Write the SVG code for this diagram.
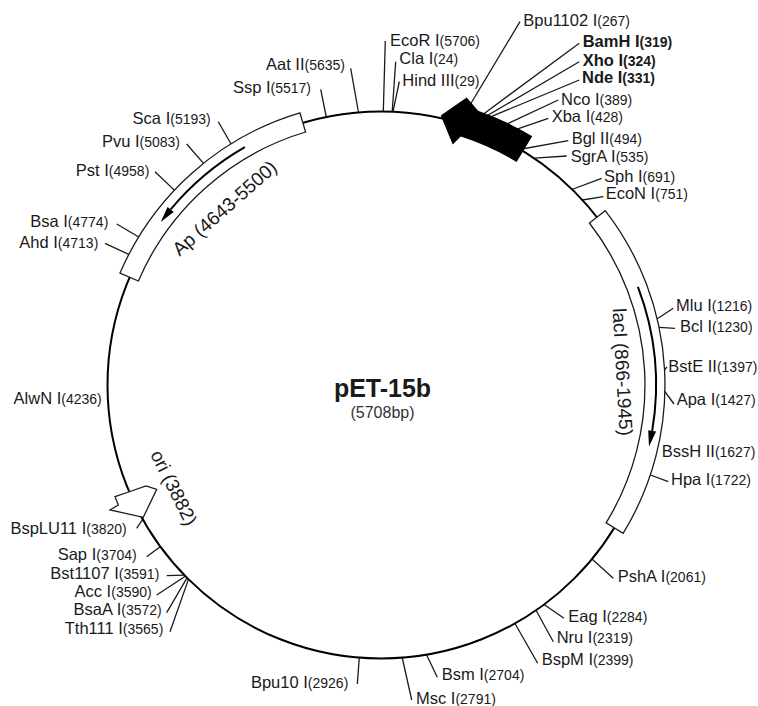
<svg xmlns="http://www.w3.org/2000/svg" width="758" height="706" viewBox="0 0 758 706">
<style>
text{font-family:"Liberation Sans",Arial,sans-serif;fill:#1a1a1a;font-size:16.5px}
.num{font-size:14px}
.b{font-weight:bold}
.feat{font-size:19px}
.tk{stroke:#1a1a1a;stroke-width:1.3;fill:none}
.bx{fill:#fff;stroke:#1a1a1a;stroke-width:1.3}
.ar{fill:none;stroke:#000;stroke-width:2}
</style>
<rect width="758" height="706" fill="#fff"/>
<g id="connectors" class="tk">
<path d="M383.3,111.5L385.3,41"/>
<path d="M392.2,111.5L395.7,61.7"/>
<path d="M393,111.5L399.3,81.7"/>
<path d="M358.5,112.5L350.7,68.3"/>
<path d="M326.3,117L320.7,89.3"/>
<path d="M467,110L520,21.7"/>
<path d="M480.9,115.9L579.3,43.3"/>
<path d="M484.5,117.3L579.3,61.7"/>
<path d="M487,118.3L579.3,80"/>
<path d="M503.7,125.5L558.3,100"/>
<path d="M513.4,130.4L548.3,118.3"/>
<path d="M522,149L568.3,140.7"/>
<path d="M534.6,158.1L566.7,156"/>
<path d="M571.8,189.5L601.7,178.3"/>
<path d="M582.3,200L603.3,196.7"/>
<path d="M654.2,320.7L673.3,308.3"/>
<path d="M655.8,327.2L675,328.3"/>
<path d="M658,377L667,367"/>
<path d="M661.3,386.7L674,404"/>
<path d="M645,473L668.3,481.7"/>
<path d="M591.7,558.7L613.3,578.3"/>
<path d="M544,604.5L564,618.3"/>
<path d="M535.9,610L553.3,641.7"/>
<path d="M514.8,623.2L537.7,663.3"/>
<path d="M426.4,654.5L437.3,677.3"/>
<path d="M402.2,657.5L411.7,700"/>
<path d="M359.3,657.5L357.3,684"/>
<path d="M188.7,578.6L170,631.7"/>
<path d="M187,577.8L166.7,612.7"/>
<path d="M185.3,576.2L156.7,595"/>
<path d="M185,575.2L166.7,575.7"/>
<path d="M160.8,546.3L146.7,556.7"/>
<path d="M143.3,518.3L136.7,528.3"/>
<path d="M233.2,147.8L218.3,121.7"/>
<path d="M207,167.4L186.7,144"/>
<path d="M177.7,193.4L155,171.7"/>
<path d="M143.4,239.8L116.7,224"/>
<path d="M134.6,257.1L105,243.3"/>
</g>
<g id="backbone">
<circle cx="381" cy="385" r="273.5" fill="none" stroke="#000" stroke-width="2"/>
</g>
<g id="ap">
<path class="bx" d="M120,273.1A284,284 0 0 1 299.9,112.8L305.6,132A264,264 0 0 0 138.4,281Z"/>
<path class="ar" d="M244.8,147.2A274,274 0 0 0 170.7,209.4" stroke-width="1.8"/>
<polygon points="173.7,212 167.6,206.9 160.7,222" fill="#000"/>
<text class="feat" transform="translate(228.9,213.1) rotate(-41.5)" text-anchor="middle">Ap (4643-5500)</text>
</g>
<g id="lacI">
<path class="bx" d="M605.2,210.7A284,284 0 0 1 623.1,533.4L606.1,522.9A264,264 0 0 0 589.4,223Z"/>
<path class="ar" d="M637.9,286.9A275,275 0 0 1 652.2,430.9" stroke-width="1.8"/>
<polygon points="648.2,430.2 656.1,431.5 649,446.6" fill="#000"/>
<text class="feat" transform="translate(616.1,372.3) rotate(86.9)" text-anchor="middle">lacI (866-1945)</text>
</g>
<g id="t7">
<path d="M440.7,115.5L466.7,97.5L478.1,110.7A291,291 0 0 1 532.2,136.3L516.6,162A261,261 0 0 0 460.8,136.5L452.7,144.5Z" fill="#000"/>
</g>
<g id="ori">
<polygon class="bx" points="115,496.7 130,491.5 146,486 156.7,489.3 143.3,517.3 110,510 118.3,505"/>
<text class="feat" transform="translate(168.1,490.7) rotate(63.6)" text-anchor="middle">ori (3882)</text>
</g>
<g id="title">
<text x="382.5" y="397" text-anchor="middle" style="font-size:25px;font-weight:bold">pET-15b</text>
<text x="382.5" y="418" text-anchor="middle" style="font-size:16px;fill:#333">(5708bp)</text>
</g>
<g id="sites-right">
<g id="s-ecori"><text x="390" y="46">EcoR I<tspan class="num">(5706)</tspan></text></g>
<g id="s-clai"><text x="399.3" y="64.3">Cla I<tspan class="num">(24)</tspan></text></g>
<g id="s-hindiii"><text x="402.3" y="86">Hind III<tspan class="num">(29)</tspan></text></g>
<g id="s-bpu1102"><text x="523.3" y="26">Bpu1102 I<tspan class="num">(267)</tspan></text></g>
<g id="s-bamhi"><text class="b" x="582.7" y="46.7">BamH I<tspan class="num">(319)</tspan></text></g>
<g id="s-xhoi"><text class="b" x="582.7" y="65.7">Xho I<tspan class="num">(324)</tspan></text></g>
<g id="s-ndei"><text class="b" x="582" y="83.3">Nde I<tspan class="num">(331)</tspan></text></g>
<g id="s-ncoi"><text x="561" y="105">Nco I<tspan class="num">(389)</tspan></text></g>
<g id="s-xbai"><text x="551.7" y="121.7">Xba I<tspan class="num">(428)</tspan></text></g>
<g id="s-bglii"><text x="571.7" y="144.3">Bgl II<tspan class="num">(494)</tspan></text></g>
<g id="s-sgrai"><text x="570.7" y="162.3">SgrA I<tspan class="num">(535)</tspan></text></g>
<g id="s-sphi"><text x="604" y="181.7">Sph I<tspan class="num">(691)</tspan></text></g>
<g id="s-econi"><text x="605.7" y="199.3">EcoN I<tspan class="num">(751)</tspan></text></g>
<g id="s-mlui"><text x="676" y="311">Mlu I<tspan class="num">(1216)</tspan></text></g>
<g id="s-bcli"><text x="680" y="331.7">Bcl I<tspan class="num">(1230)</tspan></text></g>
<g id="s-bsteii"><text x="668.3" y="371.7">BstE II<tspan class="num">(1397)</tspan></text></g>
<g id="s-apai"><text x="676.7" y="405">Apa I<tspan class="num">(1427)</tspan></text></g>
<g id="s-bsshii"><text x="661.7" y="456.7">BssH II<tspan class="num">(1627)</tspan></text></g>
<g id="s-hpai"><text x="671" y="485">Hpa I<tspan class="num">(1722)</tspan></text></g>
<g id="s-psha"><text x="617.7" y="581.7">PshA I<tspan class="num">(2061)</tspan></text></g>
<g id="s-eagi"><text x="568.3" y="622.3">Eag I<tspan class="num">(2284)</tspan></text></g>
<g id="s-nrui"><text x="556.7" y="643.3">Nru I<tspan class="num">(2319)</tspan></text></g>
<g id="s-bspmi"><text x="541.7" y="665">BspM I<tspan class="num">(2399)</tspan></text></g>
<g id="s-bsmi"><text x="441.7" y="680">Bsm I<tspan class="num">(2704)</tspan></text></g>
<g id="s-msci"><text x="416" y="703.5">Msc I<tspan class="num">(2791)</tspan></text></g>
</g>
<g id="sites-left" text-anchor="end">
<g id="s-aatii"><text x="345" y="70" text-anchor="end">Aat II<tspan class="num">(5635)</tspan></text></g>
<g id="s-sspi"><text x="311" y="92.7" text-anchor="end">Ssp I<tspan class="num">(5517)</tspan></text></g>
<g id="s-scai"><text x="210.7" y="124" text-anchor="end">Sca I<tspan class="num">(5193)</tspan></text></g>
<g id="s-pvui"><text x="180" y="146.7" text-anchor="end">Pvu I<tspan class="num">(5083)</tspan></text></g>
<g id="s-psti"><text x="149.3" y="176" text-anchor="end">Pst I<tspan class="num">(4958)</tspan></text></g>
<g id="s-bsai"><text x="108.3" y="227.3" text-anchor="end">Bsa I<tspan class="num">(4774)</tspan></text></g>
<g id="s-ahdi"><text x="98.3" y="247.7" text-anchor="end">Ahd I<tspan class="num">(4713)</tspan></text></g>
<g id="s-alwni"><text x="101.7" y="404.3" text-anchor="end">AlwN I<tspan class="num">(4236)</tspan></text></g>
<g id="s-bsplu11"><text x="126.7" y="534" text-anchor="end">BspLU11 I<tspan class="num">(3820)</tspan></text></g>
<g id="s-sapi"><text x="136.7" y="560" text-anchor="end">Sap I<tspan class="num">(3704)</tspan></text></g>
<g id="s-bst1107"><text x="159.3" y="579.3" text-anchor="end">Bst1107 I<tspan class="num">(3591)</tspan></text></g>
<g id="s-acci"><text x="151.7" y="596.7" text-anchor="end">Acc I<tspan class="num">(3590)</tspan></text></g>
<g id="s-bsaai"><text x="161.7" y="615" text-anchor="end">BsaA I<tspan class="num">(3572)</tspan></text></g>
<g id="s-tth111"><text x="163.3" y="634" text-anchor="end">Tth111 I<tspan class="num">(3565)</tspan></text></g>
<g id="s-bpu10"><text x="348.3" y="688.3" text-anchor="end">Bpu10 I<tspan class="num">(2926)</tspan></text></g>
</g>
</svg>
